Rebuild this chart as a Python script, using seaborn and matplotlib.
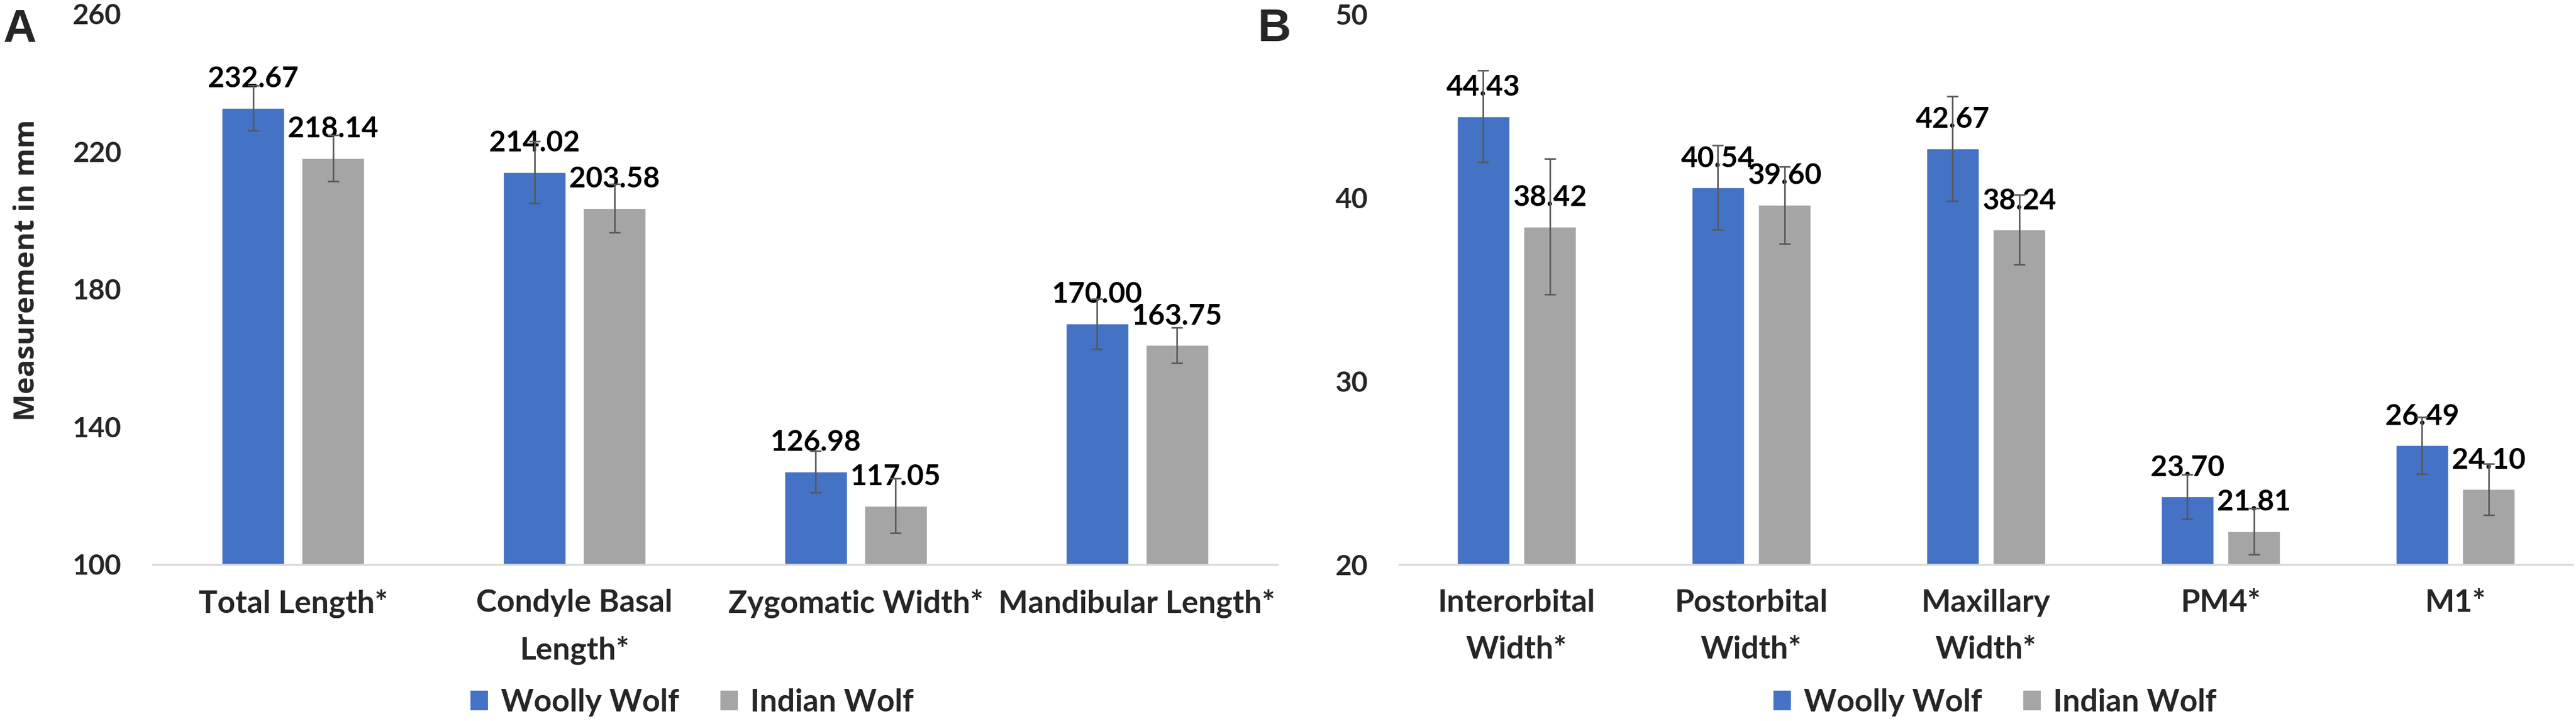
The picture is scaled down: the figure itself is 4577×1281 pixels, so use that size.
import matplotlib
matplotlib.use("Agg")
import matplotlib.pyplot as plt
from matplotlib.patches import Patch
import seaborn as sns
import pandas as pd

# ---------------- data ----------------
series = ["Woolly Wolf", "Indian Wolf"]
colors = ["#4472C4", "#A5A5A5"]

cats_a = ["Total Length*", "Condyle Basal\nLength*", "Zygomatic Width*", "Mandibular Length*"]
woolly_a = [232.67, 214.02, 126.98, 170.00]
indian_a = [218.14, 203.58, 117.05, 163.75]
woolly_a_err = [6.5, 9.0, 6.1, 7.3]
indian_a_err = [6.7, 7.0, 7.9, 5.2]
ticks_a = [100, 140, 180, 220, 260]

cats_b = ["Interorbital\nWidth*", "Postorbital\nWidth*", "Maxillary\nWidth*", "PM4*", "M1*"]
woolly_b = [44.43, 40.54, 42.67, 23.70, 26.49]
indian_b = [38.42, 39.60, 38.24, 21.81, 24.10]
woolly_b_err = [2.5, 2.3, 2.85, 1.2, 1.55]
indian_b_err = [3.7, 2.1, 1.9, 1.27, 1.4]
ticks_b = [20, 30, 40, 50]

y_label = "Measurement in mm"

# ---------------- style ----------------
sns.set_style("white")
plt.rcParams["font.family"] = ["Lato", "DejaVu Sans"]
plt.rcParams["font.weight"] = "bold"

W, H = 4577, 1281
fig = plt.figure(figsize=(W / 100, H / 100), dpi=100)

FS_TICK = 36
FS_VAL = 37
FS_CAT = 40
FS_LEG = 40


def panel(rect, cats, wv, iv, we, ie, ticks, legend_xy):
    ax = fig.add_axes(rect)
    n = len(cats)
    df = pd.DataFrame({
        "cat": cats + cats,
        "series": [series[0]] * n + [series[1]] * n,
        "value": wv + iv,
    })
    sns.barplot(data=df, x="cat", y="value", hue="series", hue_order=series,
                palette=colors, saturation=1, width=0.568, gap=0.218,
                errorbar=None, legend=False, ax=ax)
    for cont, vals, errs in zip(ax.containers, [wv, iv], [we, ie]):
        xs = [p.get_x() + p.get_width() / 2 for p in cont]
        ax.errorbar(xs, vals, yerr=errs, fmt="none", ecolor="#595959",
                    elinewidth=2, capsize=7.2, capthick=2, zorder=5)
        ax.bar_label(cont, labels=[f"{v:.2f}" for v in vals], padding=20,
                     fontsize=FS_VAL, fontweight="bold", color="black", zorder=3)
    ax.set_ylim(ticks[0], ticks[-1])
    ax.set_yticks(ticks)
    ax.set_xlim(-0.5, n - 0.5)
    ax.set_xlabel("")
    ax.set_ylabel("")
    ax.tick_params(axis="y", length=0, pad=40, labelsize=FS_TICK)
    ax.tick_params(axis="x", length=0, pad=31, labelsize=FS_CAT)
    for lab in ax.get_xticklabels() + ax.get_yticklabels():
        lab.set_fontweight("bold")
    for lab in ax.get_xticklabels():
        lab.set_linespacing(1.8)
    for s in ["top", "right", "left"]:
        ax.spines[s].set_visible(False)
    ax.spines["bottom"].set_color("#D9D9D9")
    ax.spines["bottom"].set_linewidth(2.5)
    handles = [Patch(facecolor=c, edgecolor="none") for c in colors]
    ax.legend(handles, series, loc="center", bbox_to_anchor=legend_xy, ncol=2,
              frameon=False, handlelength=0.56, handleheight=0.6,
              handletextpad=0.4, columnspacing=1.33,
              prop={"family": ["Lato", "DejaVu Sans"], "weight": "bold", "size": FS_LEG})
    return ax


bottom = 1 - 1003 / H
top = 1 - 25 / H
ax_a = panel([271 / W, bottom, (2270 - 271) / W, top - bottom], cats_a,
             woolly_a, indian_a, woolly_a_err, indian_a_err, ticks_a,
             ((1230 - 271) / 1999, (1003 - 1248) / 978))
ax_b = panel([2486 / W, bottom, (4571 - 2486) / W, top - bottom], cats_b,
             woolly_b, indian_b, woolly_b_err, indian_b_err, ticks_b,
             ((3545 - 2486) / 2085, (1003 - 1248) / 978))

fig.text(48 / W, 1 - 480 / H, y_label, rotation=90, ha="center", va="center",
         fontsize=37, fontweight="bold", family=["Open Sans", "DejaVu Sans"])

fig.text(6 / W, 1 - 73 / H, "A", ha="left", va="baseline", fontsize=59,
         fontweight="bold", family=["Liberation Sans", "DejaVu Sans"])
fig.text(2234 / W, 1 - 73 / H, "B", ha="left", va="baseline", fontsize=59,
         fontweight="bold", family=["Liberation Sans", "DejaVu Sans"])

fig.savefig("out.png", dpi=100, facecolor="white")
